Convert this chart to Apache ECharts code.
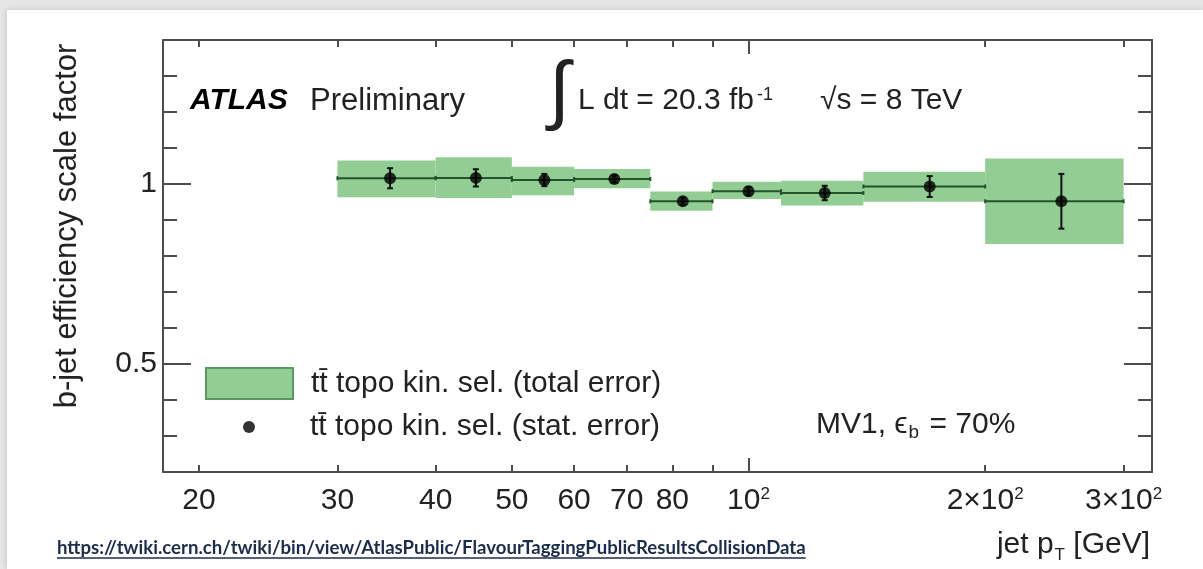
<!DOCTYPE html>
<html>
<head>
<meta charset="utf-8">
<title>b-jet efficiency scale factor</title>
<script src="https://cdn.jsdelivr.net/npm/echarts@6/dist/echarts.min.js"></script>
<style>
  html, body { margin: 0; padding: 0; background: #e6e6e6; }
  .sheet { position: absolute; left: 7px; top: 10px; width: 1196px; height: 559px; background: #fff; box-shadow: 0 0 6px rgba(0, 0, 0, 0.18); }
  #chart { position: absolute; left: 0; top: 0; width: 1203px; height: 569px; }
</style>
</head>
<body>
<div class="sheet"></div>
<div id="chart"></div>
<script>
  // pT bins [GeV]
  const binLow = [30, 40, 50, 60, 75, 90, 110, 140, 200];
  const binHigh = [40, 50, 60, 75, 90, 110, 140, 200, 300];
  const binCenter = [35, 45, 55, 67.5, 82.5, 100, 125, 170, 250];
  // scale factor and errors
  const scaleFactor = [1.016, 1.017, 1.011, 1.014, 0.952, 0.980, 0.975, 0.993, 0.952];
  const totalLow = [0.963, 0.961, 0.969, 0.988, 0.926, 0.958, 0.940, 0.951, 0.833];
  const totalHigh = [1.065, 1.074, 1.048, 1.042, 0.979, 1.006, 1.009, 1.034, 1.071];
  const statError = [0.028, 0.024, 0.017, 0.010, 0.010, 0.012, 0.020, 0.029, 0.076];
  // axis ticks
  const xMinorTicks = [20, 30, 40, 50, 60, 70, 80, 90, 200, 300];
  const xMajorTicks = [100];
  const xLabels = [20, 30, 40, 50, 60, 70, 80, 100, 200, 300];
  const yMinorTicks = [0.2, 0.3, 0.4, 0.6, 0.7, 0.8, 0.9, 1.1, 1.2, 1.3, 1.4];
  const yMajorTicks = [0.5, 1];

  const FONT = '"Liberation Sans", Arial, Helvetica, sans-serif';
  const TEXT = '#222';
  const AXIS = '#4d4d4d';
  const GREEN = '#92cd94';
  const GREEN_EDGE = '#5b9a5e';
  const LINE = '#23532a';
  const totalName = 'tt\u0304 topo kin. sel. (total error)';
  const statName = 'tt\u0304 topo kin. sel. (stat. error)';
  const url = 'https://twiki.cern.ch/twiki/bin/view/AtlasPublic/FlavourTaggingPublicResultsCollisionData';

  const boxData = binLow.map((lo, i) => [lo, binHigh[i], totalLow[i], totalHigh[i]]);
  const barData = binLow.map((lo, i) => [lo, binHigh[i], binCenter[i], scaleFactor[i], statError[i]]);
  const pointData = binCenter.map((x, i) => [x, scaleFactor[i]]);

  const axisLine = { color: AXIS, width: 2 };

  function xLabel(v) {
    const r = Math.round(v);
    if (r === 100) return '10{sup|2}';
    if (r === 200) return '2\u00d710{sup|2}';
    if (r === 300) return '3\u00d710{sup|2}';
    return String(r);
  }

  function makeX(position, ticks, len, main) {
    return {
      type: 'log', logBase: 10, min: 18, max: 326, position: position,
      axisLine: { show: main, lineStyle: axisLine },
      axisTick: { show: true, inside: true, length: len, customValues: ticks, lineStyle: axisLine },
      axisLabel: main && position === 'bottom' ? {
        customValues: xLabels, margin: 14, color: TEXT, fontFamily: FONT, fontSize: 30,
        formatter: xLabel,
        rich: { sup: { fontFamily: FONT, fontSize: 17, color: TEXT, verticalAlign: 'top', padding: [0, 0, 12, 0] } }
      } : { show: false },
      splitLine: { show: false }
    };
  }

  function makeY(position, ticks, len, main) {
    return {
      type: 'value', min: 0.2, max: 1.4, position: position,
      axisLine: { show: main, lineStyle: axisLine },
      axisTick: { show: true, inside: true, length: len, customValues: ticks, lineStyle: axisLine },
      axisLabel: main && position === 'left' ? {
        customValues: yMajorTicks, margin: 6, color: TEXT, fontFamily: FONT, fontSize: 30,
        formatter: v => String(v)
      } : { show: false },
      splitLine: { show: false }
    };
  }

  const ctx = document.createElement('canvas').getContext('2d');
  ctx.font = 'bold 18.6px Lato';
  const urlWidth = ctx.measureText(url).width;

  const chart = echarts.init(document.getElementById('chart'));
  const option = {
    backgroundColor: 'transparent',
    animation: false,
    grid: { left: 163, right: 51, top: 40, bottom: 97, outerBoundsMode: 'none' },
    xAxis: [
      makeX('bottom', xMinorTicks, 7, true),
      makeX('bottom', xMajorTicks, 14, false),
      makeX('top', xMinorTicks, 7, true),
      makeX('top', xMajorTicks, 14, false)
    ],
    yAxis: [
      makeY('left', yMinorTicks, 14, true),
      makeY('left', yMajorTicks, 28, false),
      makeY('right', yMinorTicks, 14, true),
      makeY('right', yMajorTicks, 28, false)
    ],
    legend: [
      {
        left: 205, top: 367, padding: 0, selectedMode: false,
        itemWidth: 87, itemHeight: 31,
        textStyle: { fontFamily: FONT, fontSize: 30, color: TEXT, padding: [0, 0, 0, 13] },
        data: [{ name: totalName, icon: 'rect', itemStyle: { color: GREEN, borderColor: GREEN_EDGE, borderWidth: 2 } }]
      },
      {
        left: 243, top: 412, padding: 0, selectedMode: false,
        itemWidth: 12, itemHeight: 12,
        textStyle: { fontFamily: FONT, fontSize: 30, color: TEXT, padding: [0, 0, 0, 50] },
        data: [{ name: statName, icon: 'circle', itemStyle: { color: '#000' } }]
      }
    ],
    graphic: [
      {
        type: 'text', x: 67, y: 226, rotation: Math.PI / 2,
        style: { text: 'b-jet efficiency scale factor', fontFamily: FONT, fontSize: 31, fill: TEXT, align: 'center', verticalAlign: 'middle' }
      },
      {
        type: 'text', x: 190, y: 101,
        style: { text: 'ATLAS', fontFamily: FONT, fontSize: 30, fontWeight: 'bold', fontStyle: 'italic', fill: '#000', verticalAlign: 'middle' }
      },
      {
        type: 'text', x: 310, y: 101,
        style: { text: 'Preliminary', fontFamily: FONT, fontSize: 31, fill: TEXT, verticalAlign: 'middle' }
      },
      {
        type: 'text', x: 549, y: 94,
        style: { text: '\u222b', fontFamily: FONT, fontSize: 76, fill: TEXT, verticalAlign: 'middle' }
      },
      {
        type: 'text', x: 578, y: 101,
        style: {
          text: 'L dt = 20.3 fb{sup|-1}', fontFamily: FONT, fontSize: 30, fill: TEXT, verticalAlign: 'middle',
          rich: { sup: { fontFamily: FONT, fontSize: 18, fill: TEXT, verticalAlign: 'top', padding: [0, 0, 12, 3] } }
        }
      },
      {
        type: 'text', x: 820, y: 101,
        style: { text: '\u221as = 8 TeV', fontFamily: FONT, fontSize: 30, fill: TEXT, verticalAlign: 'middle' }
      },
      {
        type: 'text', x: 816, y: 425,
        style: {
          text: 'MV1, \u03f5{sub|b} = 70%', fontFamily: FONT, fontSize: 30, fill: TEXT, verticalAlign: 'middle',
          rich: { sub: { fontFamily: FONT, fontSize: 19, fill: TEXT, verticalAlign: 'bottom', padding: [15, 2, 0, 1] } }
        }
      },
      {
        type: 'text', x: 1150, y: 545,
        style: {
          text: 'jet p{sub|T} [GeV]', fontFamily: FONT, fontSize: 30, fill: TEXT, align: 'right', verticalAlign: 'middle',
          rich: { sub: { fontFamily: FONT, fontSize: 17, fill: TEXT, verticalAlign: 'bottom', padding: [20, 0, 0, 1] } }
        }
      },
      {
        type: 'text', x: 57, y: 548,
        style: { text: url, fontFamily: 'Lato', fontWeight: 'bold', fontSize: 18.6, fill: '#1c2c4c', verticalAlign: 'middle' }
      },
      {
        type: 'line', shape: { x1: 57, y1: 558, x2: 57 + urlWidth, y2: 558 },
        style: { stroke: '#1c2c4c', lineWidth: 1.3 }
      }
    ],
    series: [
      {
        name: totalName,
        type: 'custom',
        xAxisIndex: 0, yAxisIndex: 0,
        data: boxData,
        encode: { x: [0, 1], y: [2, 3] },
        itemStyle: { color: GREEN },
        renderItem: function (params, api) {
          const p1 = api.coord([api.value(0), api.value(3)]);
          const p2 = api.coord([api.value(1), api.value(2)]);
          return {
            type: 'rect',
            shape: { x: p1[0], y: p1[1], width: p2[0] - p1[0], height: p2[1] - p1[1] },
            style: { fill: GREEN }
          };
        },
        z: 1
      },
      {
        name: 'bins',
        type: 'custom',
        xAxisIndex: 0, yAxisIndex: 0,
        data: barData,
        encode: { x: [0, 1, 2], y: 3 },
        renderItem: function (params, api) {
          const sf = api.value(3), err = api.value(4), xc = api.value(2);
          const l = api.coord([api.value(0), sf]);
          const r = api.coord([api.value(1), sf]);
          const top = api.coord([xc, sf + err]);
          const bot = api.coord([xc, sf - err]);
          return {
            type: 'group',
            children: [
              { type: 'line', shape: { x1: l[0], y1: l[1], x2: r[0], y2: r[1] }, style: { stroke: LINE, lineWidth: 2 } },
              { type: 'line', shape: { x1: l[0], y1: l[1] - 2, x2: l[0], y2: l[1] + 2 }, style: { stroke: LINE, lineWidth: 2 } },
              { type: 'line', shape: { x1: r[0], y1: r[1] - 2, x2: r[0], y2: r[1] + 2 }, style: { stroke: LINE, lineWidth: 2 } },
              { type: 'line', shape: { x1: top[0], y1: top[1], x2: bot[0], y2: bot[1] }, style: { stroke: '#111', lineWidth: 2 } },
              { type: 'line', shape: { x1: top[0] - 3, y1: top[1], x2: top[0] + 3, y2: top[1] }, style: { stroke: '#111', lineWidth: 2 } },
              { type: 'line', shape: { x1: bot[0] - 3, y1: bot[1], x2: bot[0] + 3, y2: bot[1] }, style: { stroke: '#111', lineWidth: 2 } }
            ]
          };
        },
        z: 2
      },
      {
        name: statName,
        type: 'scatter',
        xAxisIndex: 0, yAxisIndex: 0,
        data: pointData,
        symbol: 'circle',
        symbolSize: 12,
        itemStyle: { color: '#000' },
        z: 3
      }
    ]
  };
  chart.setOption(option);
</script>
</body>
</html>
